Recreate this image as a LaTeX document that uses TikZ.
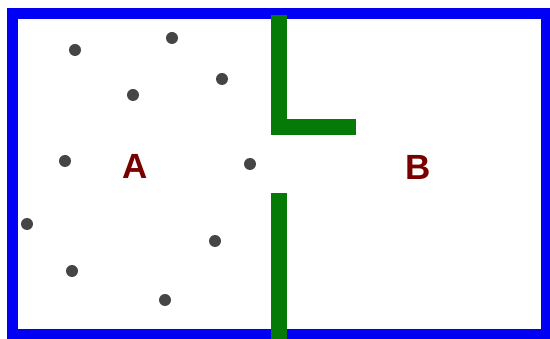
\documentclass[tikz,border=0pt]{standalone}
\usepackage{fontspec}
\setmainfont{Liberation Sans}
\begin{document}
\begin{tikzpicture}[x=1pt,y=-1pt,
  particle/.style={circle,fill=dotgray,inner sep=0pt,minimum size=12pt},
  wall/.style={draw=wallgreen,line width=16pt},
  lbl/.style={text=labelred,font=\bfseries\fontsize{35}{40}\selectfont,inner sep=0pt}]
\definecolor{dotgray}{HTML}{454545}
\definecolor{wallgreen}{HTML}{067A06}
\definecolor{labelred}{HTML}{7A0000}
\definecolor{boxblue}{HTML}{0000F5}
\useasboundingbox (0,0) rectangle (550,339);
\fill[white] (0,0) rectangle (550,339);
\draw[boxblue,line width=11pt] (12.5,13.5) rectangle (546,335);
\draw[wall,line join=miter] (279,15) -- (279,127.5) -- (356,127.5);
\draw[wall] (279,193) -- (279,339);
\node[particle] (p1) at (75,50) {};
\node[particle] (p2) at (172,38) {};
\node[particle] (p3) at (133,95) {};
\node[particle] (p4) at (222,79) {};
\node[particle] (p5) at (65,161) {};
\node[particle] (p6) at (250,164) {};
\node[particle] (p7) at (27,224) {};
\node[particle] (p8) at (215,241) {};
\node[particle] (p9) at (72,271) {};
\node[particle] (p10) at (165,300) {};
\node[lbl] (A) at (135,166) {A};
\node[lbl] (B) at (418,167) {B};
\end{tikzpicture}
\end{document}
